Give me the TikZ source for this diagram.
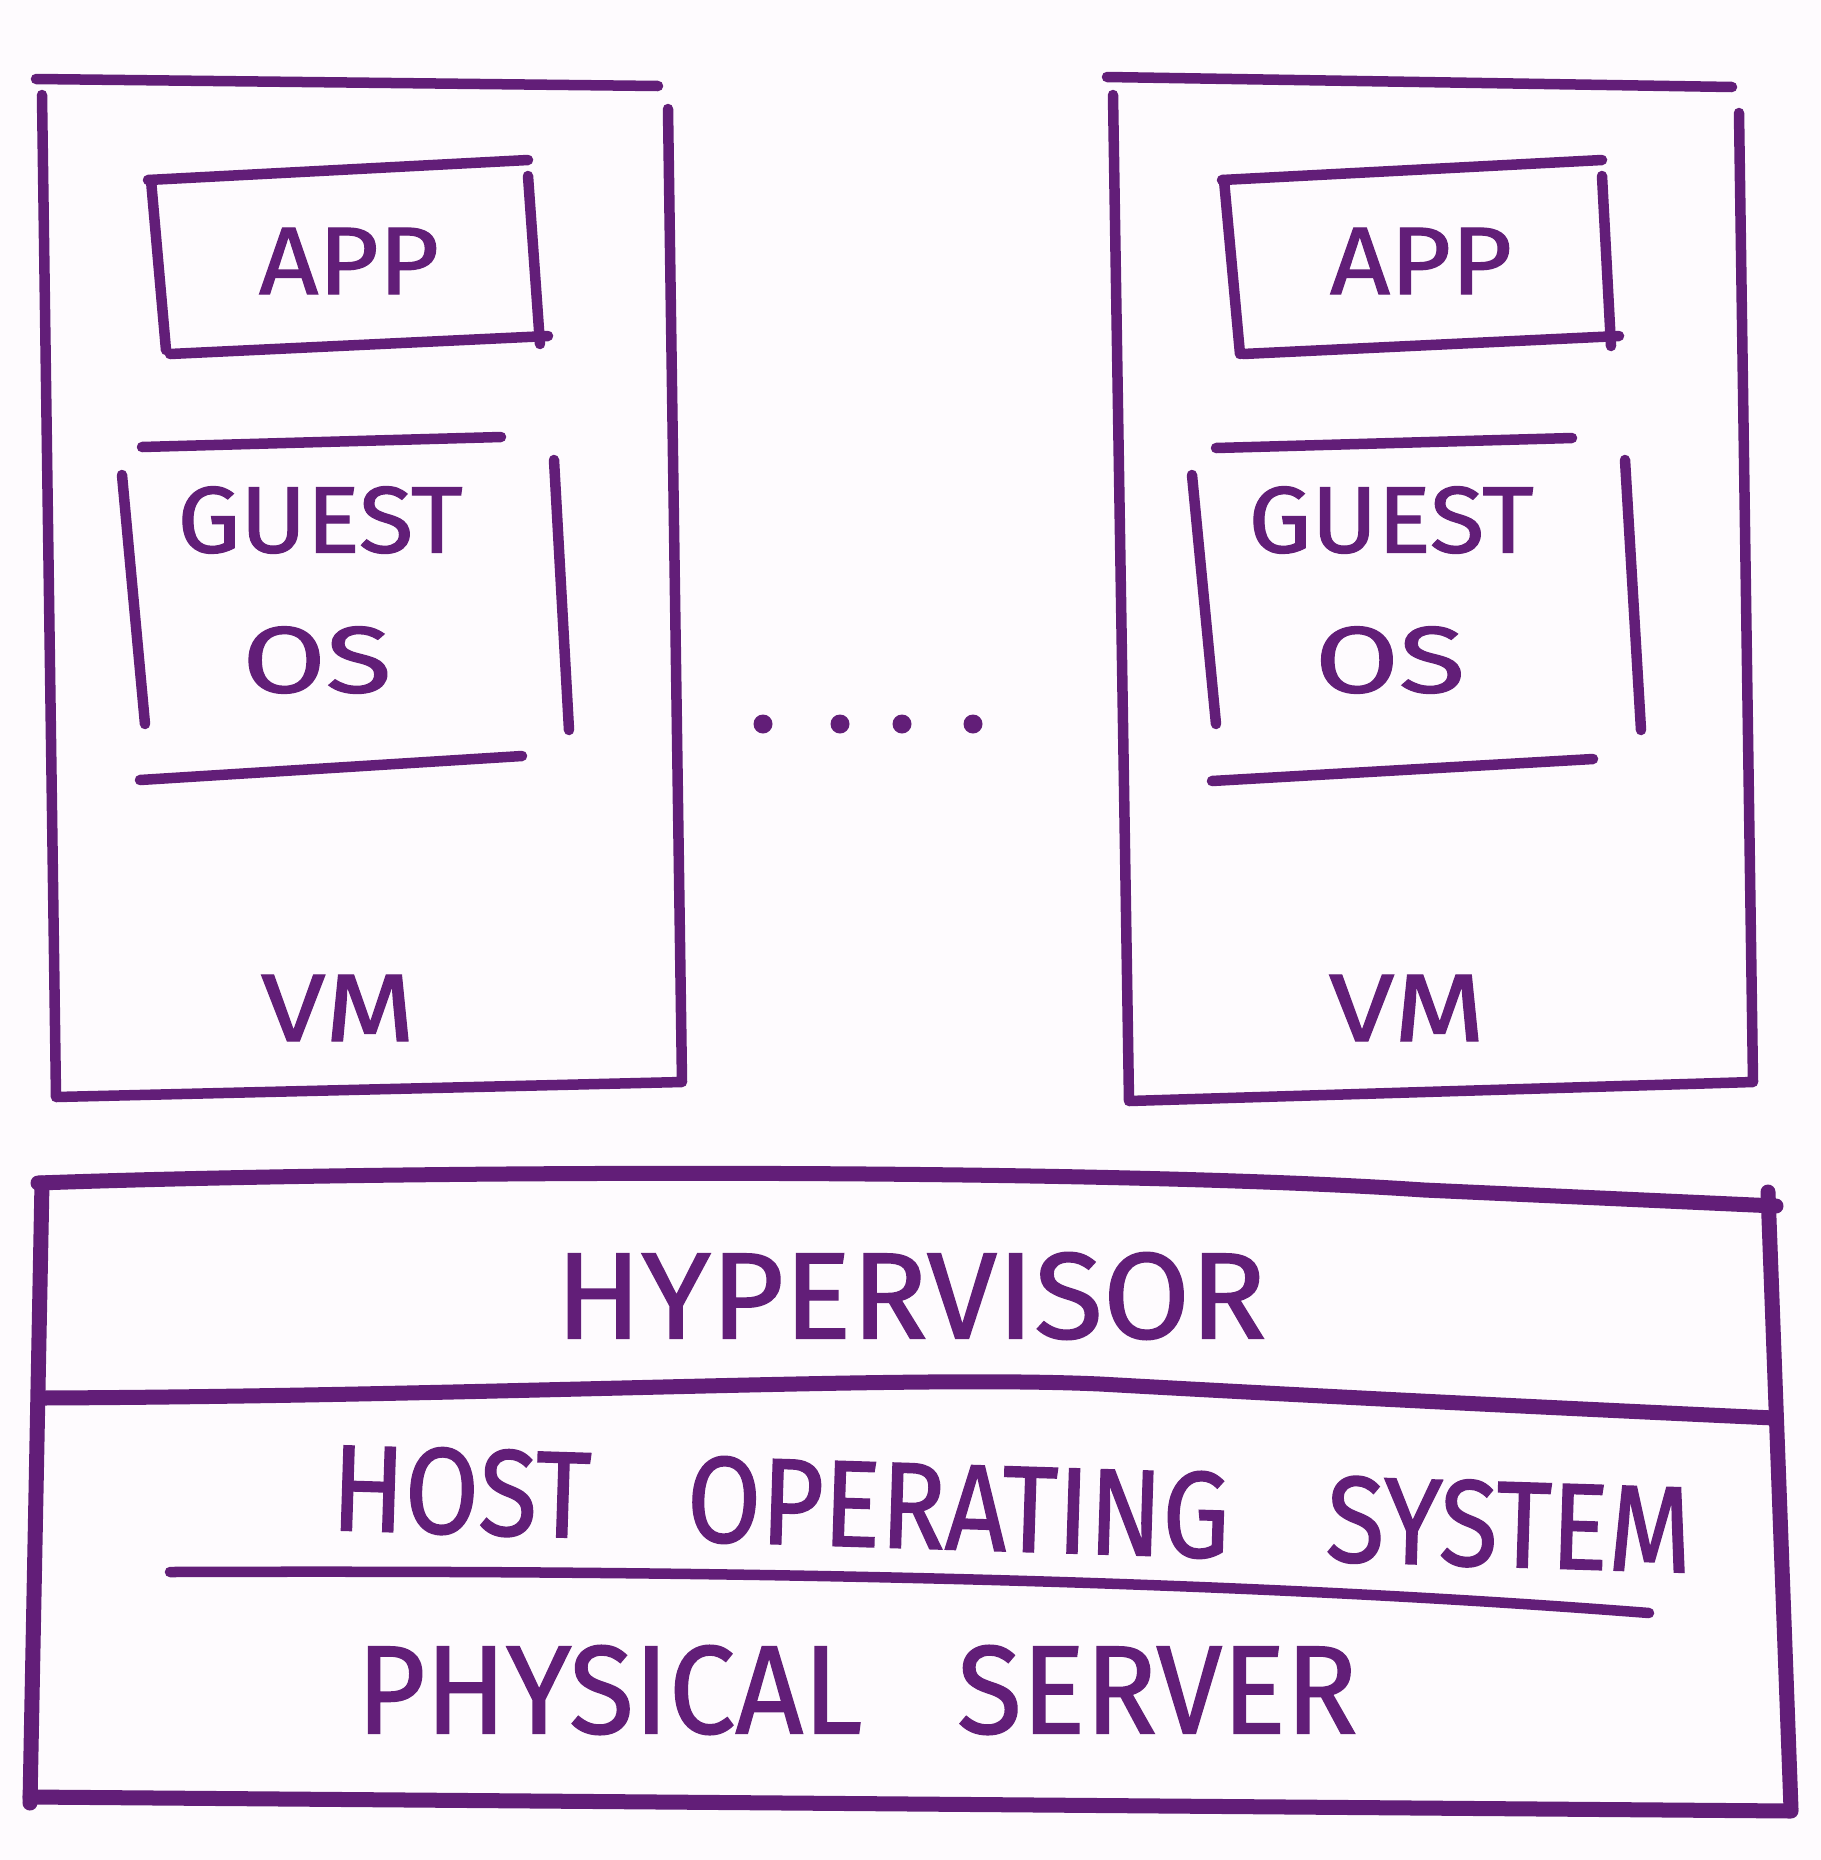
\documentclass[tikz,border=0pt]{standalone}
\usepackage{fontspec}
\setmainfont{Fira Sans}
\newfontfamily\marker{Fira Sans}[FakeBold=1.2]
\usepackage{graphicx}
\definecolor{ink}{HTML}{621E78}
\definecolor{paper}{HTML}{FEFBFE}
\begin{document}
\begin{tikzpicture}[x=0.01cm,y=-0.01cm,
  pen/.style={draw=ink,line width=0.105cm,line cap=round,line join=round},
  heavy/.style={draw=ink,line width=0.15cm,line cap=round,line join=round},
  lbl/.style={text=ink,inner sep=0pt,font=\marker}]
\fill[paper] (0,0) rectangle (1820,1860);
\useasboundingbox (0,0) rectangle (1820,1860);

% ---- left VM ----
\draw[pen] (36,79) -- (658,86);
\draw[pen] (42,95) -- (56,1097) -- (682,1082) -- (668,109);
\draw[pen] (148,180) -- (528,160);
\draw[pen] (151,180) -- (166,350);
\draw[pen] (170,354) -- (548,336);
\draw[pen] (528,176) -- (540,344);
\draw[pen] (142,447) -- (501,437);
\draw[pen] (122,475) -- (145,724);
\draw[pen] (554,460) -- (569,730);
\draw[pen] (140,780) -- (522,756);
\node[lbl] (appL) at (349,261) {\resizebox{1.8cm}{0.66cm}{APP}};
\node[lbl] (guestL) at (320,520) {\resizebox{2.85cm}{0.66cm}{GUEST}};
\node[lbl] (osL) at (317,660) {\resizebox{1.49cm}{0.66cm}{OS}};
\node[lbl] (vmL) at (338,1008) {\resizebox{1.54cm}{0.66cm}{VM}};

% ---- right VM ----
\draw[pen] (1107,77) -- (1732,87);
\draw[pen] (1113,95) -- (1129,1101) -- (1753,1082) -- (1739,113);
\draw[pen] (1222,180) -- (1602,160);
\draw[pen] (1224,180) -- (1240,354);
\draw[pen] (1243,354) -- (1619,336);
\draw[pen] (1602,176) -- (1611,346);
\draw[pen] (1216,448) -- (1572,438);
\draw[pen] (1192,475) -- (1216,724);
\draw[pen] (1625,460) -- (1641,730);
\draw[pen] (1212,781) -- (1593,759);
\node[lbl] (appR) at (1421,261) {\resizebox{1.82cm}{0.66cm}{APP}};
\node[lbl] (guestR) at (1391,520) {\resizebox{2.85cm}{0.66cm}{GUEST}};
\node[lbl] (osR) at (1390,660) {\resizebox{1.5cm}{0.66cm}{OS}};
\node[lbl] (vmR) at (1407,1008) {\resizebox{1.56cm}{0.66cm}{VM}};

% ---- dots ----
\foreach \x/\n in {763/a,840/b,902/c,973/d}
  \fill[ink] (\x,724) circle (9.5);

% ---- host stack ----
\draw[heavy] (38,1183) .. controls (400,1170) and (1100,1168) .. (1424,1190) -- (1776,1206);
\draw[heavy] (1768,1192) -- (1791,1809);
\draw[heavy] (42,1183) -- (30,1803);
\draw[heavy] (30,1797) -- (1791,1811);
\draw[heavy] (42,1398) .. controls (500,1396) and (900,1375) .. (1100,1384) .. controls (1350,1398) and (1600,1410) .. (1774,1418);
\draw[pen] (170,1572) .. controls (700,1570) and (1200,1578) .. (1649,1613);

\node[lbl] (hyp) at (911,1296) {\resizebox{7.1cm}{0.86cm}{HYPERVISOR}};
\node[lbl,rotate=-1.8] (host) at (1012,1509) {\resizebox{13.6cm}{0.86cm}{HOST\hspace{0.9em}OPERATING\hspace{0.9em}SYSTEM}};
\node[lbl] (phys) at (857,1690) {\resizebox{10cm}{0.88cm}{PHYSICAL\hspace{0.8em}SERVER}};
\end{tikzpicture}
\end{document}
